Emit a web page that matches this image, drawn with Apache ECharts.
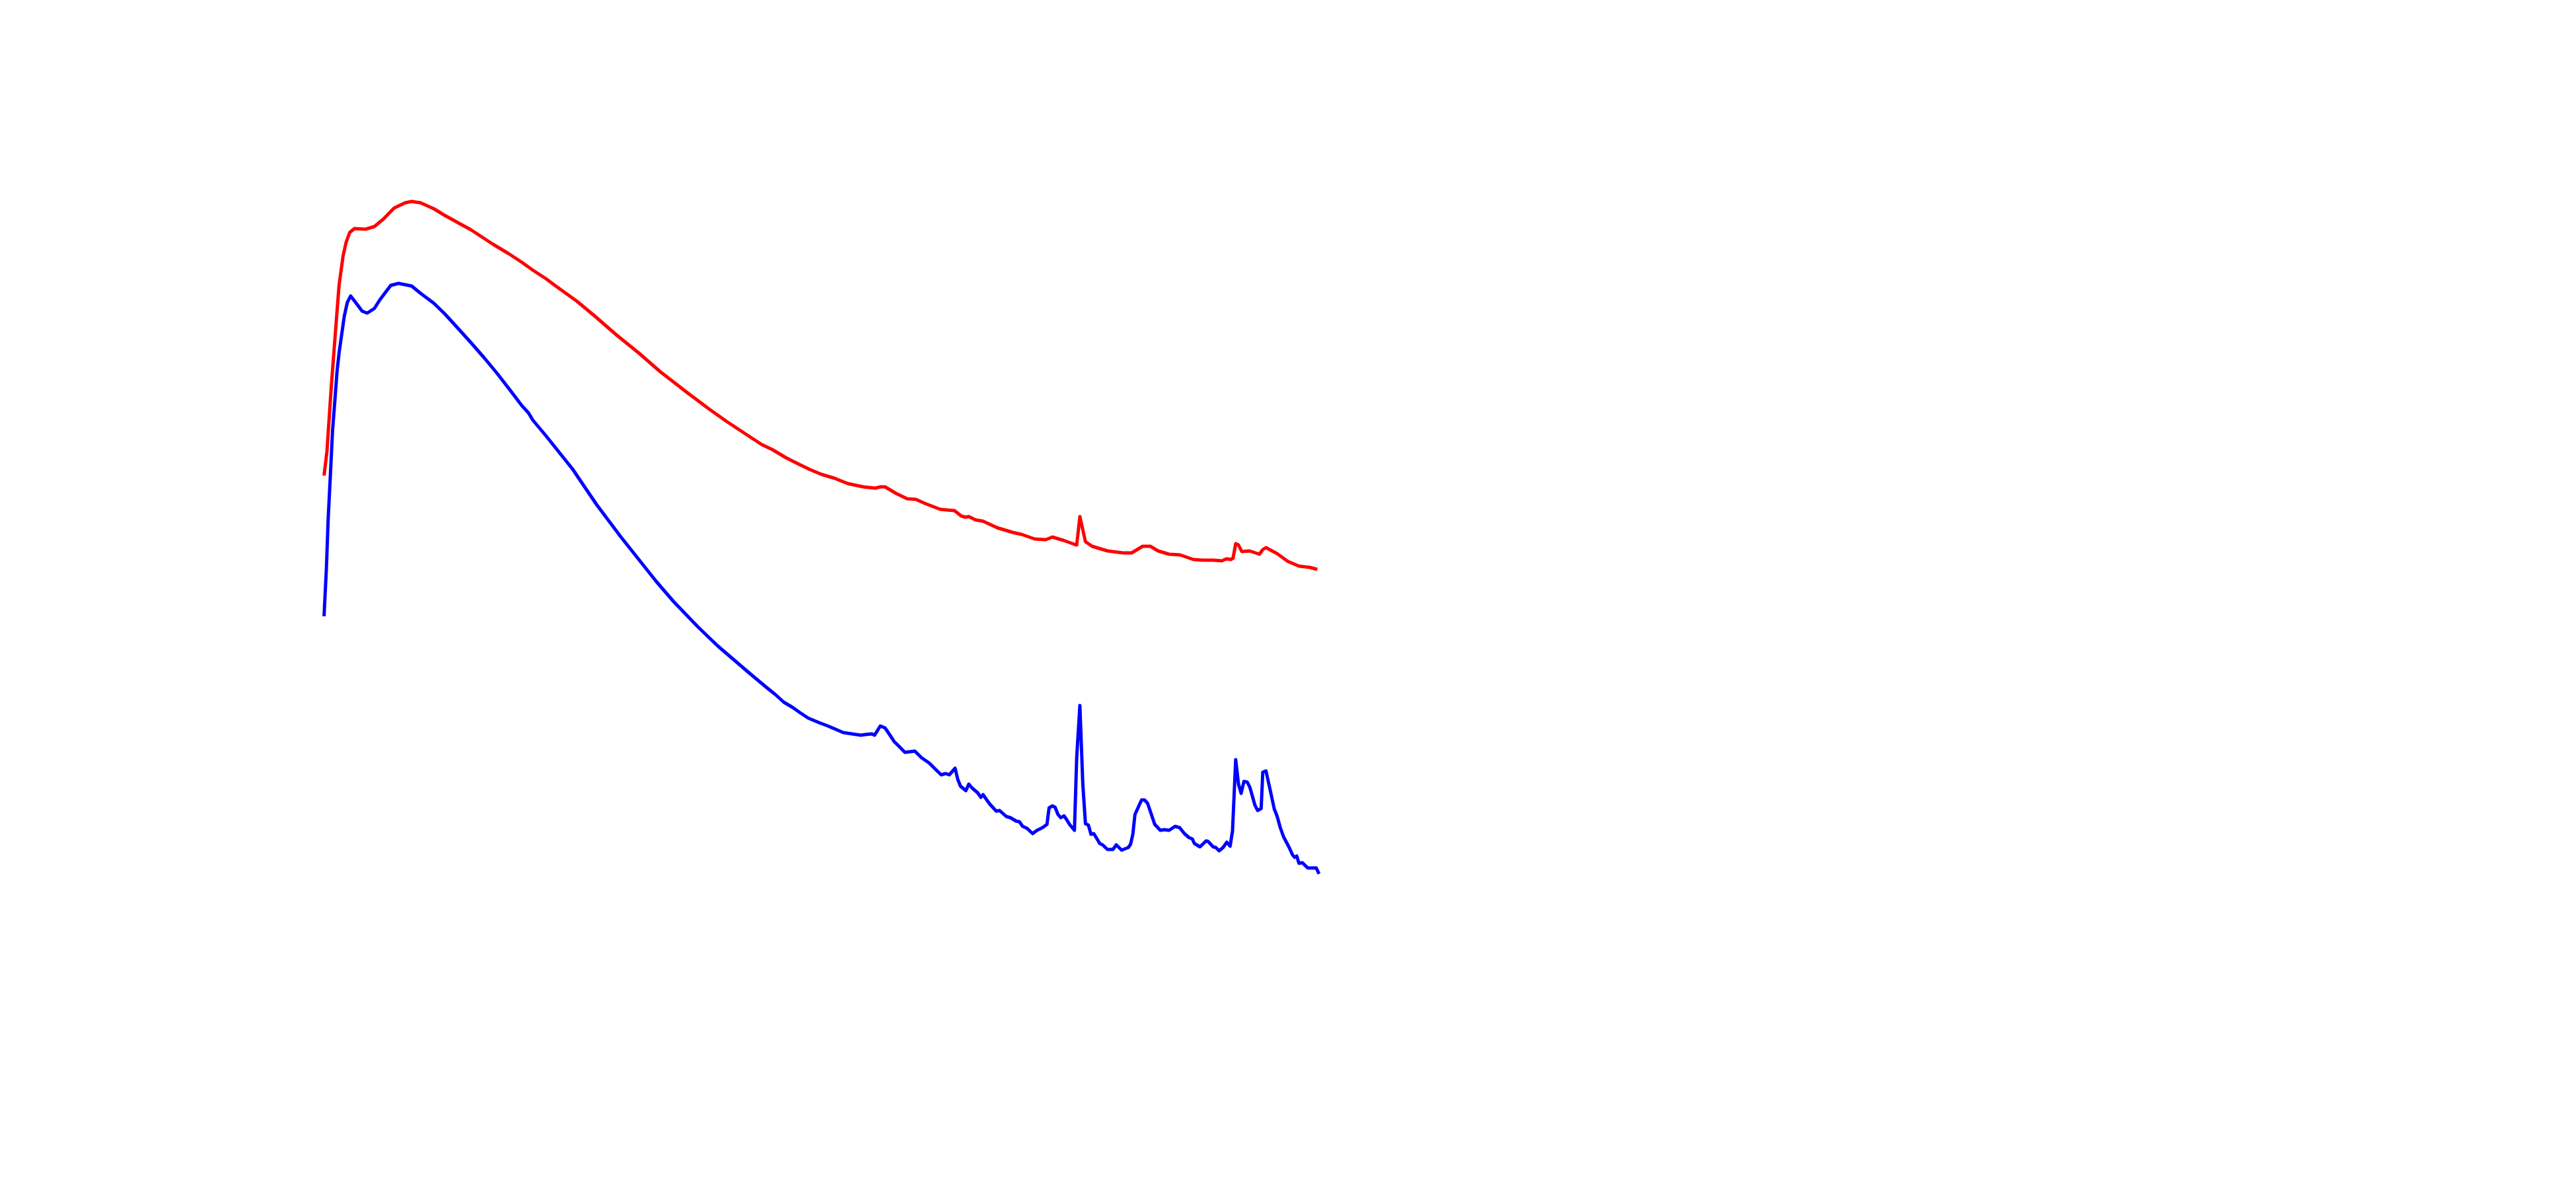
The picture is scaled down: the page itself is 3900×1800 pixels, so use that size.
<!DOCTYPE html>
<html>
<head>
<meta charset="utf-8">
<title>XRD patterns</title>
<script src="https://cdn.jsdelivr.net/npm/echarts@6/dist/echarts.min.js"></script>
<style>
  html, body { margin: 0; padding: 0; background: #ffffff; }
  #chart { width: 3900px; height: 1800px; }
</style>
</head>
<body>
<div id="chart"></div>
<script>
// 2θ (degrees) and intensity (a.u.)
const redX = [5.03,5.25,5.58,5.91,6.16,6.46,6.69,6.96,7.32,8.15,8.82,9.48,10.31,11.14,11.63,12.30,13.30,14.12,15.29,16.11,16.94,17.78,18.94,19.93,20.76,21.76,22.42,24.08,25.40,27.06,28.72,30.38,32.37,34.03,35.36,37.02,38.01,38.84,39.84,40.83,41.66,42.49,43.49,44.48,45.65,46.56,46.97,47.30,48.13,48.96,49.63,50.29,51.45,51.95,52.53,53.03,53.36,53.61,54.11,54.68,55.76,56.92,57.59,58.58,59.41,59.91,60.74,61.57,61.74,61.98,62.40,62.90,64.06,65.22,65.88,66.71,67.29,67.87,68.70,69.53,70.53,71.19,72.02,72.68,73.02,73.35,73.52,73.72,73.93,74.18,74.76,75.51,75.76,76.00,76.83,77.66,78.49,79.32,79.87];
const redY = [680,717,816,903,968,1012,1033,1048,1054,1053,1057,1068,1085,1093,1095,1093,1084,1074,1061,1052,1041,1030,1016,1003,991,978,968,944,922,893,866,837,806,781,762,740,727,719,707,697,689,682,676,668,663,661,663,663,653,645,644,638,629,628,627,619,617,618,613,611,601,594,591,584,583,587,582,576,575,618,580,573,566,563,563,573,573,566,561,560,553,552,552,551,554,553,555,577,575,565,566,561,568,571,562,550,543,541,538];

const blueX = [5.03,5.21,5.34,5.51,5.67,5.85,6.01,6.17,6.34,6.56,6.78,7.03,7.49,7.90,8.28,8.82,9.23,9.64,10.06,10.64,11.14,11.63,12.30,13.30,14.12,15.12,16.11,17.11,18.10,19.10,19.93,20.43,20.76,21.76,23.75,25.57,27.40,28.39,30.05,31.38,33.20,34.70,37.02,37.85,38.51,39.01,39.67,40.34,40.83,41.50,42.33,42.99,44.15,44.81,45.48,45.81,46.31,46.51,46.94,47.30,47.64,48.00,48.21,48.80,49.54,50.04,50.62,51.12,51.53,51.87,52.14,52.58,52.78,52.98,53.39,53.61,53.86,54.27,54.52,54.68,55.18,55.68,55.93,56.43,56.76,57.17,57.42,57.67,58.00,58.42,58.75,59.16,59.50,59.66,59.91,60.11,60.33,60.54,60.78,60.99,61.20,61.57,61.74,61.98,62.20,62.40,62.62,62.82,63.03,63.48,63.69,64.06,64.47,64.72,65.13,65.63,65.80,65.97,66.13,66.63,66.85,67.08,67.62,68.04,68.34,68.70,69.15,69.50,69.86,70.20,70.45,70.61,71.03,71.49,71.65,72.02,72.22,72.47,72.77,73.05,73.30,73.48,73.72,73.93,74.13,74.34,74.59,74.79,75.17,75.37,75.64,75.76,76.00,76.33,76.63,76.83,77.08,77.33,77.75,78.00,78.16,78.32,78.49,78.74,79.15,79.79,80.00];
const blueY = [467,541,614,682,748,795,838,867,891,922,942,952,940,929,926,933,946,957,968,971,969,967,956,941,925,903,881,858,834,808,786,775,764,740,690,636,587,562,520,489,451,422,382,368,357,349,337,329,322,313,306,301,291,289,287,288,289,287,301,298,288,277,273,261,263,253,245,235,227,229,227,237,220,210,203,213,207,200,193,197,183,172,173,164,162,157,156,149,146,138,143,147,152,177,180,178,167,162,165,159,152,143,253,332,213,153,151,137,138,123,121,114,114,121,113,117,122,137,167,189,189,184,152,143,144,143,149,147,138,132,130,123,118,127,126,118,117,112,117,125,119,142,250,213,199,217,216,208,181,173,176,231,233,203,175,165,147,133,117,106,102,104,93,94,86,86,77];

const pairs = (xs, ys) => xs.map((x, i) => [x, ys[i]]);

const chart = echarts.init(document.getElementById('chart'), null, { renderer: 'canvas' });
chart.setOption({
  backgroundColor: '#ffffff',
  animation: false,
  grid: { left: 490, right: 1903, top: 200, bottom: 400, containLabel: false },
  xAxis: { type: 'value', min: 5, max: 80, show: false },
  yAxis: { type: 'value', min: 0, max: 1200, show: false },
  series: [
    {
      name: 'red', type: 'line', data: pairs(redX, redY),
      symbol: 'none', smooth: false, clip: false,
      lineStyle: { color: '#ff0000', width: 5, join: 'round', cap: 'butt' }
    },
    {
      name: 'blue', type: 'line', data: pairs(blueX, blueY),
      symbol: 'none', smooth: false, clip: false,
      lineStyle: { color: '#0000ff', width: 5, join: 'round', cap: 'butt' }
    }
  ]
});
</script>
</body>
</html>
